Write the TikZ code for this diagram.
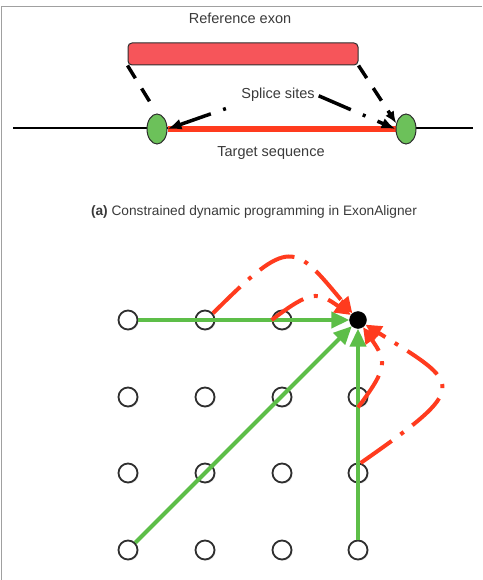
\documentclass[tikz,border=0pt]{standalone}
\usepackage{fontspec}
\setmainfont{Liberation Sans}
\usetikzlibrary{arrows.meta,shapes.geometric,shadows}
\definecolor{exonred}{HTML}{F6555A}
\definecolor{seqred}{HTML}{FF3B1E}
\definecolor{dotgreen}{HTML}{6CC15A}
\definecolor{arrgreen}{HTML}{5DBE48}
\definecolor{txtgray}{HTML}{3A3A3A}
\definecolor{edgegray}{HTML}{2E2E2E}
\definecolor{framegray}{HTML}{A0A0A0}
\pgfdeclarelayer{bg}
\pgfsetlayers{bg,main}
\begin{document}
\begin{tikzpicture}[x=1pt,y=-1pt,
  lbl/.style={text=txtgray, font=\fontsize{14.5}{17}\selectfont, inner sep=2pt},
  caplbl/.style={text=txtgray, font=\fontsize{13.7}{16}\selectfont, inner sep=2pt},
  exonbox/.style={rectangle, rounded corners=4pt, fill=exonred, draw=edgegray, line width=1pt,
    minimum width=230pt, minimum height=22pt, inner sep=0pt},
  site/.style={ellipse, fill=dotgreen, draw=edgegray, line width=1pt,
    minimum width=20pt, minimum height=30pt, inner sep=0pt},
  cell/.style={circle, fill=white, draw=edgegray, line width=1.8pt, minimum size=19pt, inner sep=0pt,
    drop shadow={shadow xshift=1.2pt, shadow yshift=-1.2pt, opacity=0.2}},
  target/.style={circle, fill=black, draw=black, minimum size=17pt, inner sep=0pt},
  blackdash/.style={draw=black, line width=3.5pt, dash pattern=on 15pt off 12pt},
  blackdd/.style={draw=black, line width=3.5pt, dash pattern=on 35pt off 13pt on 3pt off 13pt,
    -{Latex[length=14pt,width=11pt]}},
  redjump/.style={draw=seqred, line width=4pt, dash pattern=on 38pt off 11pt on 4pt off 11pt,
    -{Triangle[length=16pt,width=15pt]}},
  greenarr/.style={draw=arrgreen, line width=4pt, -{Triangle[length=18pt,width=16pt]}}
]
\useasboundingbox (0,0) rectangle (482,580);
% frame
\draw[framegray, line width=1pt] (1.5,580) -- (1.5,7) -- (482,7);

% ---------- top part ----------
\node[lbl] (reflbl) at (240,18) {Reference exon};
\node[exonbox] (exon) at (243,54) {};
\node[site] (e1) at (157,129) {};
\node[site] (e2) at (406,129) {};
\coordinate (bl) at (13,128);
\coordinate (br) at (473,128);
\begin{pgfonlayer}{bg}
  \draw[black, line width=2.5pt] (bl) -- (br);
  \draw[seqred, line width=6pt] (e1) -- (e2);
\end{pgfonlayer}
\node[lbl] (spl) at (278,95) {Splice sites};
\node[lbl] (tgt) at (271,153) {Target sequence};

\draw[blackdash, shorten >=10pt] (exon.south west) -- (e1.north);
\draw[blackdash, -{Latex[length=12pt,width=10pt]}] (exon.south east) -- (e2.150);
\draw[blackdd, dash phase=48pt, shorten <=14pt] (spl.south west) -- (e1.east);
\draw[blackdd, shorten <=2pt] (spl.east) -- (e2.west);

\node[caplbl] (cap) at (254,212) {\textbf{(a)} Constrained dynamic programming in ExonAligner};

% ---------- grid ----------
\node[cell] (c11) at (128,320) {};
\node[cell] (c12) at (205,320) {};
\node[cell] (c13) at (282,320) {};
\node[cell] (c21) at (128,397) {};
\node[cell] (c22) at (205,397) {};
\node[cell] (c23) at (282,397) {};
\node[cell] (c24) at (358,397) {};
\node[cell] (c31) at (128,473) {};
\node[cell] (c32) at (205,473) {};
\node[cell] (c33) at (282,473) {};
\node[cell] (c34) at (358,473) {};
\node[cell] (c41) at (128,550) {};
\node[cell] (c42) at (205,550) {};
\node[cell] (c43) at (282,550) {};
\node[cell] (c44) at (358,550) {};
\node[target] (blk) at (358,320) {};

% green DP moves
\draw[greenarr] (c11) -- (blk);
\draw[greenarr] (c41) -- (blk);
\draw[greenarr] (c44) -- (blk);

% red constrained jumps
\draw[redjump] (c12.40) .. controls +(45:110pt) and +(130:100pt) .. (blk);
\draw[redjump] (c13.west) .. controls +(37:50pt) and +(145:50pt) .. (blk);
\draw[redjump] (c34.75) .. controls +(35:135pt) and +(-32:123pt) .. (blk);
\draw[redjump] (c24.south) .. controls +(53:50pt) and +(-55:50pt) .. (blk);
\end{tikzpicture}
\end{document}
